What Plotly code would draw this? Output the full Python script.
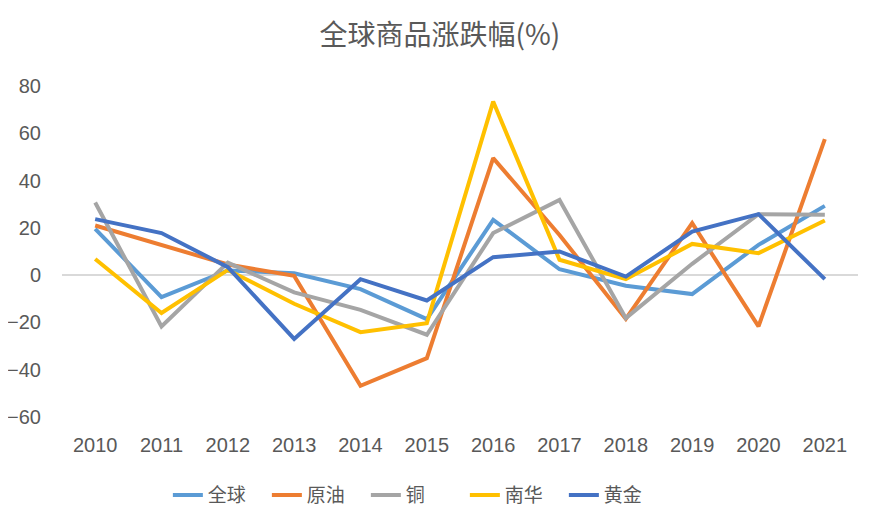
import plotly.graph_objects as go

years = ["2010", "2011", "2012", "2013", "2014", "2015",
         "2016", "2017", "2018", "2019", "2020", "2021"]

quanqiu = [19.6, -9.3, 2.0, 0.8, -5.9, -18.6, 23.4, 2.5, -4.5, -8.0, 12.8, 29.3]
yuanyou = [21.0, 12.8, 4.5, -0.3, -46.8, -35.1, 49.5, 17.0, -18.5, 22.0, -21.7, 57.5]
tong = [30.7, -21.7, 5.3, -7.3, -14.7, -25.2, 17.8, 31.8, -18.2, 4.8, 25.8, 25.5]
nanhua = [6.8, -16.0, 2.2, -12.1, -24.1, -20.3, 73.4, 6.5, -1.7, 13.2, 9.3, 23.1]
huangjin = [23.7, 17.8, 3.4, -27.0, -1.7, -10.7, 7.6, 10.0, -0.6, 18.4, 25.8, -1.7]

series = [
    ("全球", quanqiu, "#5B9BD5"),
    ("原油", yuanyou, "#ED7D31"),
    ("铜", tong, "#A5A5A5"),
    ("南华", nanhua, "#FFC000"),
    ("黄金", huangjin, "#4472C4"),
]

num_font = "Liberation Sans, Arial, sans-serif"
cjk_font = "Noto Sans CJK SC, sans-serif"

fig = go.Figure()
for name, vals, color in series:
    fig.add_trace(go.Scatter(
        x=years,
        y=vals,
        name=name,
        mode="lines",
        line=dict(color=color, width=4),
    ))

# the page body adds an 8px offset, margins are set with that in mind
fig.update_layout(
    width=878,
    height=526,
    paper_bgcolor="white",
    plot_bgcolor="white",
    margin=dict(l=54, r=28, t=78, b=117),
    font=dict(family=num_font, size=20, color="#595959"),
    title=dict(
        text="全球商品涨跌幅(%)",
        x=0.492,
        xanchor="center",
        y=0.949,
        yanchor="middle",
        font=dict(family=cjk_font, size=28, color="#595959"),
    ),
    xaxis=dict(
        type="category",
        range=[-0.5, 11.5],
        showgrid=False,
        showline=False,
        ticks="",
        automargin=False,
        ticklabelstandoff=14,
        tickfont=dict(size=20, color="#595959"),
    ),
    yaxis=dict(
        range=[-60, 80],
        dtick=20,
        showgrid=False,
        zeroline=True,
        zerolinecolor="#D9D9D9",
        zerolinewidth=1.5,
        showline=False,
        ticks="",
        automargin=False,
        ticklabelstandoff=20,
        tickfont=dict(size=20, color="#595959"),
    ),
    legend=dict(
        orientation="h",
        x=0.133,
        xanchor="left",
        y=-0.236,
        yanchor="middle",
        font=dict(family=cjk_font, size=19, color="#595959"),
        entrywidth=54,
        entrywidthmode="pixels",
    ),
)

fig.write_html("out.html")
